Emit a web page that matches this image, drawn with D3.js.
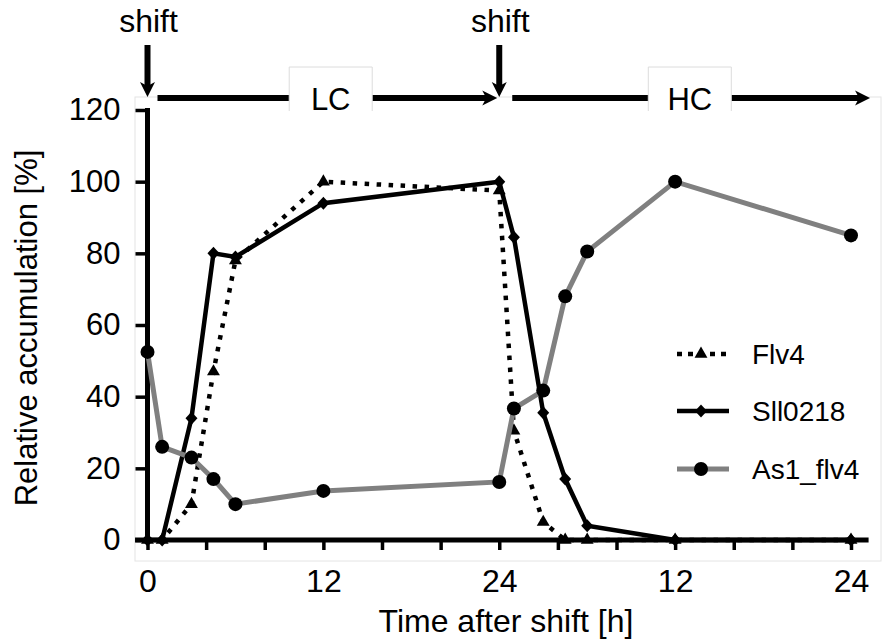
<!DOCTYPE html>
<html>
<head>
<meta charset="utf-8">
<script src="https://cdn.jsdelivr.net/npm/d3@7"></script>
<style>
  body { margin: 0; background: #fff; }
  svg { display: block; }
</style>
</head>
<body>
<svg id="chart" width="883" height="644"></svg>
<script>
// sampling times, hours after first shift (LC 0-24, HC 24-48)
const hours = [0, 1, 3, 4.5, 6, 12, 24, 25, 27, 28.5, 30, 36, 48];
const flv4 = [0, 0, 10, 47, 78, 100, 97.5, 30.5, 5, 0, 0, 0, 0];
const sll0218 = [0, 0, 34, 80, 79, 94, 100, 84.5, 35.5, 17, 4, 0, 0];
const as1Flv4 = [52.5, 26, 23, 17, 10, 13.7, 16.2, 36.7, 41.7, 68, 80.5, 100, 85];

const yTicks = [0, 20, 40, 60, 80, 100, 120];
const xTicks = [0, 4, 8, 12, 16, 20, 24, 28, 32, 36, 40, 44, 48];
const xLabelHours = [0, 12, 24, 36, 48];
const xLabels = ["0", "12", "24", "12", "24"];
const shifts = [0, 24];
const phases = ["LC", "HC"];

const FONT = '"Liberation Sans", Arial, sans-serif';
const svg = d3.select("#chart");

const x = d3.scaleLinear().domain([0, 48]).range([147.5, 851]);
const y = d3.scaleLinear().domain([0, 120]).range([540, 110]);

// faint frame around plot area
svg.append("rect")
    .attr("x", 135).attr("y", 97)
    .attr("width", 746).attr("height", 464)
    .attr("fill", "none")
    .attr("stroke", "#e4e4e4");

// y axis
const gy = svg.append("g")
    .attr("transform", `translate(${x(0)},0)`)
    .call(d3.axisLeft(y).tickValues(yTicks).tickSize(12).tickPadding(15).tickSizeOuter(0));
gy.select(".domain").remove();
gy.selectAll(".tick line").attr("stroke", "#000").attr("stroke-width", 3.5);
gy.selectAll(".tick text").attr("font-family", FONT).attr("font-size", 31).attr("fill", "#000");
svg.append("line")
    .attr("x1", x(0)).attr("x2", x(0))
    .attr("y1", y(120) - 2).attr("y2", y(0) + 2.5)
    .attr("stroke", "#000").attr("stroke-width", 5);

// x axis
const gx = svg.append("g")
    .attr("transform", `translate(0,${y(0)})`)
    .call(d3.axisBottom(x).tickValues(xTicks).tickSize(10).tickSizeOuter(0)
        .tickFormat(d => {
            const i = xLabelHours.indexOf(d);
            return i < 0 ? "" : xLabels[i];
        }));
gx.select(".domain").remove();
gx.selectAll(".tick line").attr("stroke", "#000").attr("stroke-width", 3.5);
gx.selectAll(".tick text")
    .attr("font-family", FONT).attr("font-size", 32).attr("fill", "#000")
    .attr("y", 52).attr("dy", 0);
svg.append("line")
    .attr("x1", x(-0.85)).attr("x2", x(49.2))
    .attr("y1", y(0)).attr("y2", y(0))
    .attr("stroke", "#000").attr("stroke-width", 5);

// axis titles
svg.append("text")
    .attr("transform", `translate(37,${(y(0) + y(120)) / 2 + 3}) rotate(-90)`)
    .attr("text-anchor", "middle")
    .attr("font-family", FONT).attr("font-size", 31)
    .text("Relative accumulation [%]");

svg.append("text")
    .attr("x", 506).attr("y", 632)
    .attr("text-anchor", "middle")
    .attr("font-family", FONT).attr("font-size", 32)
    .text("Time after shift [h]");

// arrows on top
function arrow(x1, y1, x2, y2, w) {
    const ang = Math.atan2(y2 - y1, x2 - x1);
    const len = 15, half = 7.5, notch = 4;
    const c = Math.cos(ang), s = Math.sin(ang);
    svg.append("line")
        .attr("x1", x1).attr("y1", y1)
        .attr("x2", x2 - c * 9).attr("y2", y2 - s * 9)
        .attr("stroke", "#000").attr("stroke-width", w);
    const pts = [
        [x2, y2],
        [x2 - c * len - s * half, y2 - s * len + c * half],
        [x2 - c * (len - notch), y2 - s * (len - notch)],
        [x2 - c * len + s * half, y2 - s * len - c * half]
    ];
    svg.append("path").attr("d", "M" + pts.join("L") + "Z").attr("fill", "#000");
}

const arrowY = 98;
shifts.forEach(s => {
    arrow(x(s), 45, x(s), arrowY - 1, 6);
    svg.append("text")
        .attr("x", x(s) + 1).attr("y", 32)
        .attr("text-anchor", "middle")
        .attr("font-family", FONT).attr("font-size", 32)
        .text("shift");
});

arrow(x(0) + 10, arrowY, x(24) - 2, arrowY, 6);
arrow(x(24) + 13, arrowY, x(49.3), arrowY, 6);

const boxCenters = [x(12.5), x(37)];
phases.forEach((p, i) => {
    const cx = boxCenters[i], bw = 83;
    svg.append("rect")
        .attr("x", cx - bw / 2).attr("y", 67)
        .attr("width", bw).attr("height", 44)
        .attr("fill", "#fff");
    svg.append("path")
        .attr("d", `M${cx - bw / 2},${111}V67H${cx + bw / 2}V111`)
        .attr("fill", "none").attr("stroke", "#dcdcdc");
    svg.append("text")
        .attr("x", cx).attr("y", 110)
        .attr("text-anchor", "middle")
        .attr("font-family", FONT).attr("font-size", 31)
        .text(p);
});

// series
const series = [
    { name: "Flv4", values: flv4, color: "#000", width: 4.5, dash: "4.5,7.5", shape: "triangle" },
    { name: "Sll0218", values: sll0218, color: "#000", width: 4.5, dash: null, shape: "diamond" },
    { name: "As1_flv4", values: as1Flv4, color: "#808080", width: 5, dash: null, shape: "circle" }
];

const line = d3.line()
    .x((d, i) => x(hours[i]))
    .y(d => y(d));

function marker(g, shape, cx, cy) {
    if (shape === "circle") {
        g.append("circle").attr("cx", cx).attr("cy", cy).attr("r", 7).attr("fill", "#000");
    } else if (shape === "diamond") {
        g.append("path").attr("d", "M0,-6.5L6,0L0,6.5L-6,0Z")
            .attr("transform", `translate(${cx},${cy})`).attr("fill", "#000");
    } else {
        g.append("path").attr("d", d3.symbol().type(d3.symbolTriangle).size(72)())
            .attr("transform", `translate(${cx},${cy})`).attr("fill", "#000");
    }
}

series.forEach(s => {
    const g = svg.append("g");
    g.append("path")
        .datum(s.values)
        .attr("d", line)
        .attr("fill", "none")
        .attr("stroke", s.color)
        .attr("stroke-width", s.width)
        .attr("stroke-dasharray", s.dash);
    s.values.forEach((v, i) => marker(g, s.shape, x(hours[i]), y(v)));
});

// legend
const legendY = [354, 411, 469];
series.forEach((s, i) => {
    const g = svg.append("g");
    g.append("line")
        .attr("x1", 677).attr("x2", 729)
        .attr("y1", legendY[i]).attr("y2", legendY[i])
        .attr("stroke", s.color)
        .attr("stroke-width", s.width)
        .attr("stroke-dasharray", s.dash ? "5,6" : null);
    marker(g, s.shape, 701, legendY[i]);
    g.append("text")
        .attr("x", 752).attr("y", legendY[i]).attr("dy", "0.36em")
        .attr("font-family", FONT).attr("font-size", 28)
        .text(s.name);
});
</script>
</body>
</html>
